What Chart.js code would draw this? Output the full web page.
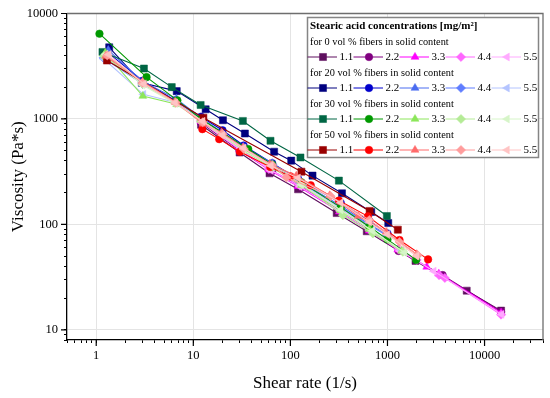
<!DOCTYPE html>
<html><head><meta charset="utf-8">
<script src="https://cdn.jsdelivr.net/npm/chart.js@4"></script>
<style>html,body{margin:0;padding:0;background:#fff}#wrap{width:550px;height:398px;position:relative}</style>
</head><body><div id="wrap"><canvas id="c" width="550" height="398"></canvas></div>
<script>
// ---------- DATA ----------
const concentrations = ['1.1', '2.2', '3.3', '4.4', '5.5'];
const groupHeadings = [
  'for 0 vol % fibers in solid content',
  'for 20 vol % fibers in solid content',
  'for 30 vol % fibers in solid content',
  'for 50 vol % fibers in solid content'
];
const legendTitle = 'Stearic acid concentrations [mg/m\u00B2]';
const xTickLabels = [1, 10, 100, 1000, 10000];
const yTickLabels = [10, 100, 1000, 10000];

// 0 vol %
const x0_11 = [12, 30, 61, 120, 300, 612, 1945, 6550, 14800];
const y0_11 = [880, 480, 305, 215, 128, 86, 45, 23.5, 15.2];
const x0_22 = [12, 30, 65, 130, 330, 650, 1300, 3700, 14800];
const y0_22 = [920, 500, 320, 225, 135, 88, 56, 33, 14.8];
const x0_33 = [12, 30, 60, 120, 320, 650, 1279, 2540, 3380, 14800];
const y0_33 = [950, 510, 330, 230, 132, 87, 57.5, 39.5, 34, 14.5];
const x0_44 = [12, 30, 60, 125, 330, 660, 1300, 2000, 3400, 3900, 14800];
const y0_44 = [960, 520, 335, 235, 138, 90, 58, 46, 33, 31, 13.9];
const x0_55 = [12, 31, 63, 125, 325, 650, 1350, 3000, 15000];
const y0_55 = [940, 505, 325, 228, 134, 88, 56, 36, 14];
// 20 vol %
const x20_11 = [1.36, 2.95, 6.75, 13.4, 20.2, 34, 68, 102, 169, 340, 681, 1019];
const y20_11 = [4780, 2200, 1835, 1234, 972, 727, 489, 402, 290, 197, 131, 103];
const x20_22 = [1.3, 3, 6.5, 12, 20, 33, 65, 120, 330, 650, 1000];
const y20_22 = [4300, 2300, 1500, 1050, 780, 560, 380, 270, 160, 108, 82];
const x20_33 = [1.33, 3.05, 6.7, 12.5, 33, 65, 130, 330, 650, 1000];
const y20_33 = [4500, 2250, 1550, 1000, 540, 380, 250, 150, 100, 80];
const x20_44 = [1.19, 3, 6.6, 12.5, 33, 65, 130, 330, 650, 1000];
const y20_44 = [3790, 2150, 1480, 980, 530, 370, 245, 145, 98, 78];
const x20_55 = [1.2, 3.06, 6.6, 12.5, 33, 65, 130, 330, 700, 1400];
const y20_55 = [3700, 1710, 1430, 960, 520, 360, 240, 142, 90, 57];
// 30 vol %
const x30_11 = [1.16, 3.1, 6.0, 11.9, 32.4, 62.4, 127, 316, 986];
const y30_11 = [4315, 3006, 2003, 1356, 957, 620, 431, 260, 120];
const x30_22 = [1.08, 3.3, 6.85, 12, 36.8, 65, 130, 330, 650, 1000, 1973];
const y30_22 = [6430, 2490, 1500, 1000, 518, 370, 250, 145, 95, 72, 46];
const x30_33 = [1.24, 3.02, 6.75, 12, 33, 65, 130, 330, 650, 1400];
const y30_33 = [4225, 1648, 1376, 980, 500, 345, 235, 135, 90, 56];
const x30_44 = [1.2, 3, 6.5, 12, 33, 65, 130, 347, 707, 1440];
const y30_44 = [3950, 2150, 1420, 950, 510, 350, 240, 122, 82, 55];
const x30_55 = [1.25, 3, 6.5, 12.5, 33, 65, 130, 330, 700, 1500];
const y30_55 = [4100, 2100, 1400, 940, 505, 350, 238, 137, 87, 54];
// 50 vol %
const x50_11 = [1.29, 12.7, 130, 655, 1279];
const y50_11 = [3580, 1028, 316, 134, 89];
const x50_22 = [12.4, 18.5, 30.2, 62, 100, 162, 316, 630, 1331, 2620];
const y50_22 = [800, 643, 488, 350, 285, 235, 168, 119, 71, 46.5];
const x50_33 = [1.25, 3, 6.5, 12.6, 19.5, 32.5, 61.4, 115, 254, 500, 970, 2000];
const y50_33 = [3950, 2250, 1450, 898, 743, 537, 374, 289, 188, 120, 84.6, 52];
const x50_44 = [1.3, 3, 6.6, 12.5, 20, 33, 65, 91, 260, 650, 1331, 2050];
const y50_44 = [4000, 2200, 1430, 930, 720, 520, 365, 279, 185, 110, 68, 51];
const x50_55 = [1.35, 3.1, 6.5, 12.5, 20, 33, 63, 120, 330, 650, 1000, 2000];
const y50_55 = [4075, 2150, 1420, 950, 700, 530, 360, 275, 160, 105, 80, 50];

// ---------- STYLE ----------
const FONT = '"Liberation Serif", "Times New Roman", serif';
const colors = [
  ['#5e0f5e', '#800080', '#ff00ff', '#ff66ff', '#ffaaff'],
  ['#00007f', '#0000cc', '#4a6cf0', '#5f7dff', '#b4c4ff'],
  ['#006644', '#009900', '#8ce65a', '#b4eb96', '#d6f5c8'],
  ['#990000', '#ff0000', '#ff6b6b', '#ff9c9c', '#ffc4c4']
];
const markerStyles = [
  {pointStyle: 'rect', rotation: 0, radius: 5},
  {pointStyle: 'circle', rotation: 0, radius: 3.8},
  {pointStyle: 'triangle', rotation: 0, radius: 4.6},
  {pointStyle: 'rectRot', rotation: 0, radius: 4.6},
  {pointStyle: 'triangle', rotation: -90, radius: 4.6}
];
const seriesX = [
  [x0_11, x0_22, x0_33, x0_44, x0_55],
  [x20_11, x20_22, x20_33, x20_44, x20_55],
  [x30_11, x30_22, x30_33, x30_44, x30_55],
  [x50_11, x50_22, x50_33, x50_44, x50_55]
];
const seriesY = [
  [y0_11, y0_22, y0_33, y0_44, y0_55],
  [y20_11, y20_22, y20_33, y20_44, y20_55],
  [y30_11, y30_22, y30_33, y30_44, y30_55],
  [y50_11, y50_22, y50_33, y50_44, y50_55]
];

const datasets = [];
for (let g = 0; g < 4; g++) {
  for (let k = 0; k < 5; k++) {
    const xs = seriesX[g][k], ys = seriesY[g][k];
    const m = markerStyles[k];
    datasets.push({
      label: groupHeadings[g] + ' ' + concentrations[k],
      data: xs.map((x, i) => ({x: x, y: ys[i]})),
      borderColor: colors[g][k],
      backgroundColor: colors[g][k],
      borderWidth: 1.1,
      pointStyle: m.pointStyle,
      pointRotation: m.rotation,
      pointRadius: m.radius,
      pointBorderWidth: 0.5,
      pointHoverRadius: m.radius,
      order: 100 - (g * 5 + k),
      tension: 0
    });
  }
}

function ticksFor(min, max) {
  const out = [];
  for (let e = -1; e <= 5; e++) {
    for (let s = 1; s <= 9; s++) {
      const v = parseFloat((s * Math.pow(10, e)).toPrecision(6));
      if (v >= min - 1e-9 && v <= max + 1e-9) out.push(v);
    }
  }
  return out;
}
const isLabelled = (v, arr) => arr.some(a => Math.abs(a - v) < 1e-9 * a);

function drawMarker(ctx, m, x, y, color) {
  ctx.save();
  ctx.fillStyle = color; ctx.strokeStyle = color; ctx.lineWidth = 0.5;
  if (Chart.helpers && Chart.helpers.drawPoint) {
    Chart.helpers.drawPoint(ctx, {pointStyle: m.pointStyle, rotation: m.rotation, radius: m.radius, borderWidth: 0.5}, x, y);
  } else {
    ctx.translate(x, y); ctx.rotate(m.rotation * Math.PI / 180); ctx.beginPath();
    const r = m.radius;
    if (m.pointStyle === 'rect') { const s = r * Math.SQRT1_2; ctx.rect(-s, -s, 2 * s, 2 * s); }
    else if (m.pointStyle === 'circle') { ctx.arc(0, 0, r, 0, Math.PI * 2); }
    else if (m.pointStyle === 'rectRot') { ctx.moveTo(0, -r); ctx.lineTo(r, 0); ctx.lineTo(0, r); ctx.lineTo(-r, 0); ctx.closePath(); }
    else { ctx.moveTo(0, -r); ctx.lineTo(r * 0.866, r * 0.5); ctx.lineTo(-r * 0.866, r * 0.5); ctx.closePath(); }
    ctx.fill(); ctx.stroke();
  }
  ctx.restore();
}

const framePlugin = {
  id: 'frame',
  beforeDatasetsDraw(chart) {
    const {ctx, chartArea: a} = chart;
    ctx.save();
    ctx.strokeStyle = '#6e6e6e'; ctx.lineWidth = 1.3;
    ctx.beginPath();
    ctx.moveTo(a.left, a.top); ctx.lineTo(a.right, a.top); ctx.lineTo(a.right, a.bottom);
    ctx.stroke();
    // longer marks for the labelled (decade) ticks
    ctx.strokeStyle = '#000'; ctx.lineWidth = 1.2;
    const xs = chart.scales.x, ys = chart.scales.y;
    ctx.beginPath();
    xTickLabels.forEach(v => { const p = xs.getPixelForValue(v); ctx.moveTo(p, a.bottom); ctx.lineTo(p, a.bottom + 6); });
    yTickLabels.forEach(v => { const p = ys.getPixelForValue(v); ctx.moveTo(a.left, p); ctx.lineTo(a.left - 6, p); });
    ctx.stroke();
    ctx.restore();
  }
};

const legendPlugin = {
  id: 'groupLegend',
  afterDraw(chart) {
    const ctx = chart.ctx;
    ctx.save();
    const bx = 307.5, by = 17.5, bw = 231, bh = 140;
    ctx.fillStyle = '#fff'; ctx.fillRect(bx, by, bw, bh);
    ctx.strokeStyle = '#858585'; ctx.lineWidth = 1.5; ctx.strokeRect(bx, by, bw, bh);
    ctx.textBaseline = 'middle'; ctx.textAlign = 'left'; ctx.fillStyle = '#000';
    ctx.font = 'bold 11px ' + FONT;
    ctx.fillText(legendTitle, 310, 26);
    for (let g = 0; g < 4; g++) {
      const hy = 42 + g * 31;
      ctx.font = '10.3px ' + FONT; ctx.fillStyle = '#000';
      ctx.fillText(groupHeadings[g], 310, hy);
      const ry = hy + 15;
      for (let k = 0; k < 5; k++) {
        const ds = chart.data.datasets[g * 5 + k];
        const mx = 323 + 46 * k;
        ctx.strokeStyle = ds.borderColor; ctx.lineWidth = 1;
        ctx.beginPath(); ctx.moveTo(mx - 15.5, ry); ctx.lineTo(mx + 14, ry); ctx.stroke();
        drawMarker(ctx, markerStyles[k], mx, ry, ds.borderColor);
        ctx.fillStyle = '#000'; ctx.font = '11px ' + FONT;
        ctx.fillText(concentrations[k], mx + 16.5, ry + 0.5);
      }
    }
    ctx.restore();
  }
};

const gridColor = (labels) => (c) => (c.tick && isLabelled(c.tick.value, labels)) ? '#e4e4e4' : 'rgba(0,0,0,0)';

new Chart(document.getElementById('c'), {
  type: 'line',
  data: {datasets: datasets},
  plugins: [framePlugin, legendPlugin],
  options: {
    responsive: false,
    devicePixelRatio: 1,
    animation: false,
    layout: {padding: {top: 12, right: 7, left: 0, bottom: 0}},
    plugins: {legend: {display: false}, tooltip: {enabled: false}},
    elements: {line: {tension: 0}},
    scales: {
      x: {
        type: 'logarithmic', min: 0.5, max: 40000,
        afterBuildTicks: (s) => { s.ticks = ticksFor(0.5, 40000).map(v => ({value: v})); },
        afterFit: (s) => { s.height = 58; },
        ticks: {
          autoSkip: false, maxRotation: 0, minRotation: 0, padding: 5, color: '#000',
          font: {family: FONT, size: 12.5},
          callback: (v) => isLabelled(v, xTickLabels) ? String(v) : ''
        },
        grid: {color: gridColor(xTickLabels), tickColor: '#000', tickLength: 3, lineWidth: 1, drawTicks: true},
        border: {color: '#000', width: 1.3},
        title: {display: true, text: 'Shear rate (1/s)', color: '#000', font: {family: FONT, size: 17}, padding: {top: 0, bottom: 4}}
      },
      y: {
        type: 'logarithmic', min: 8, max: 10000,
        afterBuildTicks: (s) => { s.ticks = ticksFor(8, 10000).map(v => ({value: v})); },
        afterFit: (s) => { s.width = 67; },
        ticks: {
          autoSkip: false, padding: 6, color: '#000',
          font: {family: FONT, size: 12.5},
          callback: (v) => isLabelled(v, yTickLabels) ? String(v) : ''
        },
        grid: {color: gridColor(yTickLabels), tickColor: '#000', tickLength: 3, lineWidth: 1, drawTicks: true},
        border: {color: '#000', width: 1.3},
        title: {display: true, text: 'Viscosity (Pa*s)', color: '#000', font: {family: FONT, size: 17}, padding: {top: 8, bottom: 0}}
      }
    }
  }
});
</script></body></html>
